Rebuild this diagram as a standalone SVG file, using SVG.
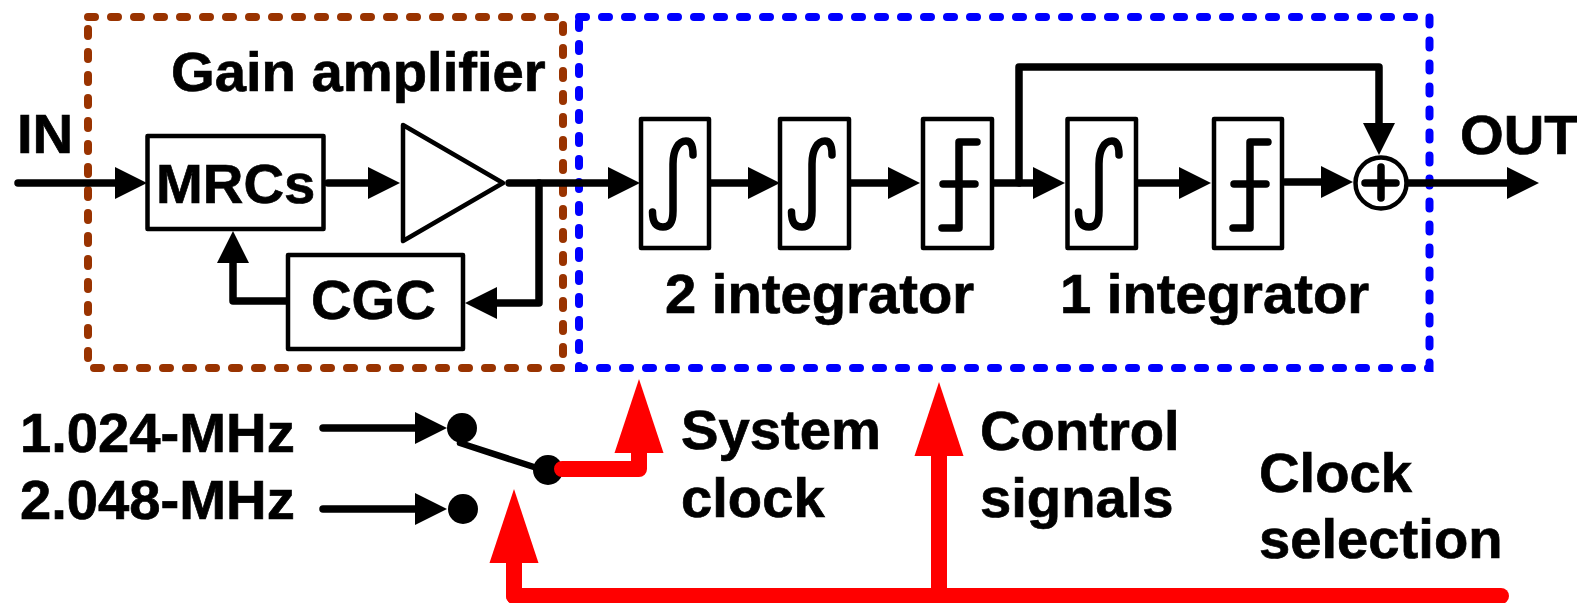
<svg xmlns="http://www.w3.org/2000/svg" xmlns:xlink="http://www.w3.org/1999/xlink" width="1577" height="603" viewBox="0 0 1577 603">
<style>
text{font-family:"Liberation Sans",Arial,sans-serif;font-weight:bold;font-size:56.2px;fill:#000;stroke:#000;stroke-width:.7}
.box{fill:#fff;stroke:#000;stroke-width:4.5;stroke-linejoin:round}
.glyph{fill:none;stroke:#000;stroke-width:7.5;stroke-linecap:round;stroke-linejoin:round}
.wire{fill:none;stroke:#000;stroke-width:7.5;stroke-linecap:round;stroke-linejoin:round;marker-end:url(#ah)}
.plain{fill:none;stroke:#000;stroke-width:6.5;stroke-linecap:round;stroke-linejoin:round}
.red{fill:none;stroke:#f00;stroke-width:16;stroke-linecap:round;stroke-linejoin:round}
.redm{marker-end:url(#rh)}
.dash{fill:none;stroke-width:8;stroke-dasharray:7 16;stroke-linecap:round}
</style>
<defs>
<marker id="ah" markerUnits="userSpaceOnUse" markerWidth="33" markerHeight="34" refX="0" refY="17" orient="auto" overflow="visible"><path d="M0,1L32,17L0,33Z" fill="#000"/></marker>
<marker id="rh" markerUnits="userSpaceOnUse" markerWidth="75" markerHeight="50" refX="0" refY="25" orient="auto" overflow="visible"><path d="M0,0.5L74,25L0,49.5Z" fill="#f00"/></marker>
<path id="integ" class="glyph" d="M11.5,93C11.5,105 16,108 22,108C29,108 32,103 32,92L32,45C32,30 38,22 45,22C50,22 52,26 52,36"/>
<path id="step" class="glyph" d="M54,23L36,23L36,109L19,109M20,65L52,65"/>
</defs>
<g id="frame-gain"><rect class="dash" x="88" y="17" width="475" height="351" stroke="#993300"/></g>
<g id="frame-integrators"><rect class="dash" x="579" y="17" width="850.500" height="351" stroke="#0000ff"/></g>
<g id="connectors">
<path class="wire" d="M18,183H115"/>
<path class="wire" d="M328,183H368"/>
<path class="wire" d="M509,183H608"/>
<path class="wire" d="M539,183V303H497"/>
<path class="wire" d="M288,301H233V263"/>
<path class="wire" d="M708,183H748"/>
<path class="wire" d="M849,183H888"/>
<path class="wire" d="M992,183H1033"/>
<path class="wire" d="M1019,183V67H1379V123"/>
<path class="wire" d="M1137,183H1179"/>
<path class="wire" d="M1285,182H1321"/>
<path class="wire" d="M1407,183H1507"/>
<path class="wire" d="M323,428H415"/>
<path class="wire" d="M323,509H415"/>
<path class="plain" d="M460,443L537,468"/>
<path class="red" d="M1501,596H514"/>
<path class="red redm" d="M514,596V563"/>
<path class="red redm" d="M939,596V456"/>
</g>
<g id="label-in"><text x="17" y="153">IN</text></g>
<g id="label-gain"><text x="171" y="91">Gain amplifier</text></g>
<g id="mrcs"><rect class="box" x="147.500" y="136" width="176" height="93"/><text x="156" y="203">MRCs</text></g>
<g id="amp"><path class="box" d="M403,125L503,183L403,241Z"/></g>
<g id="cgc"><rect class="box" x="288" y="255" width="175" height="94"/><text x="311" y="319">CGC</text></g>
<g id="int1"><rect class="box" x="641" y="119" width="68" height="129"/><use href="#integ" x="641" y="119"/></g>
<g id="int2"><rect class="box" x="780" y="119" width="69" height="129"/><use href="#integ" x="780" y="119"/></g>
<g id="quant1"><rect class="box" x="923" y="119" width="69" height="129"/><use href="#step" x="923" y="119"/></g>
<g id="int3"><rect class="box" x="1067.500" y="119" width="68.500" height="129"/><use href="#integ" x="1067" y="119"/></g>
<g id="quant2"><rect class="box" x="1214" y="119" width="68" height="129"/><use href="#step" x="1214" y="119"/></g>
<g id="sum"><circle cx="1381" cy="183" r="25.500" fill="#fff" stroke="#000" stroke-width="4.500"/><path class="glyph" d="M1365,183H1396M1381,167V198"/></g>
<g id="label-out"><text x="1460" y="154">OUT</text></g>
<g id="label-2int"><text x="665" y="313">2 integrator</text></g>
<g id="label-1int"><text x="1060" y="313">1 integrator</text></g>
<g id="label-f1"><text x="20" y="452">1.024-MHz</text></g>
<g id="label-f2"><text x="20" y="519">2.048-MHz</text></g>
<g id="dot1"><circle cx="462" cy="428" r="15"/></g>
<g id="dot2"><circle cx="463" cy="509" r="15"/></g>
<g id="dot3"><circle cx="548" cy="470" r="15"/></g>
<path class="red redm" d="M562,469H639V453"/>
<g id="label-sys"><text x="681" y="449">System</text><text x="681" y="517">clock</text></g>
<g id="label-ctrl"><text x="980" y="450">Control</text><text x="980" y="517">signals</text></g>
<g id="label-sel"><text x="1259" y="492">Clock</text><text x="1259" y="558">selection</text></g>
</svg>
